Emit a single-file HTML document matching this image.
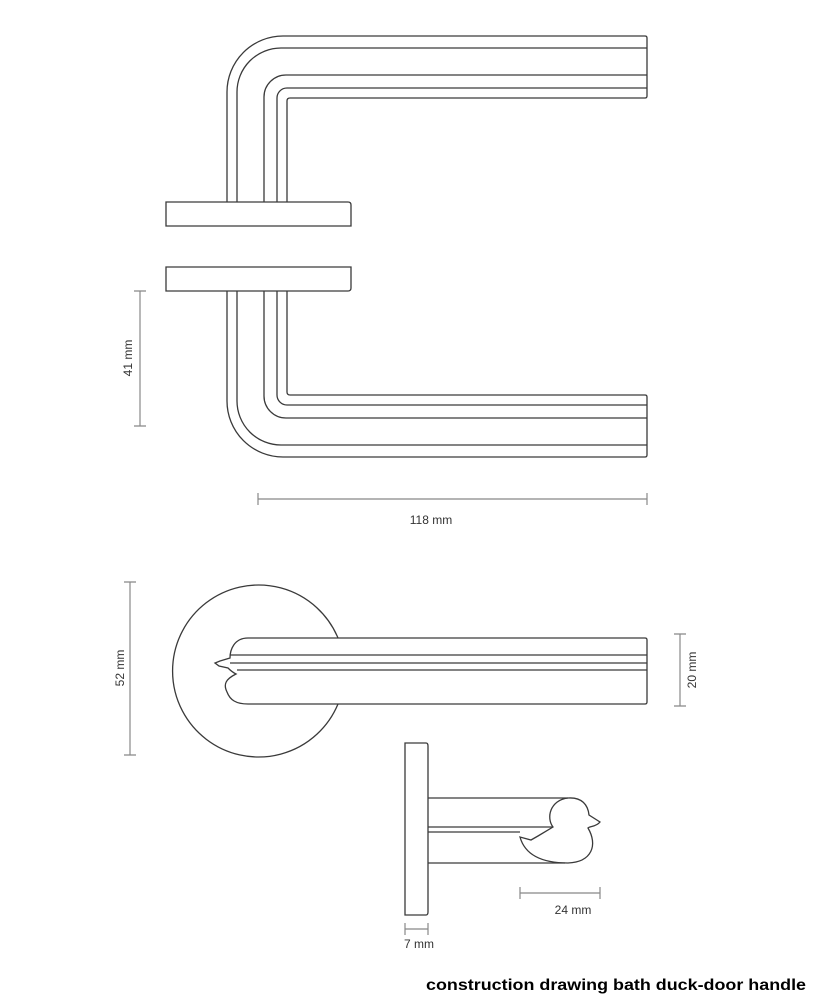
<!DOCTYPE html>
<html><head><meta charset="utf-8"><style>
html,body{margin:0;padding:0;background:#fff;}
svg{display:block;}
text{font-family:"Liberation Sans",sans-serif;fill:#333;}
</style></head><body>
<svg width="818" height="1000" viewBox="0 0 818 1000" xmlns="http://www.w3.org/2000/svg">
<g fill="none" stroke="#3a3a3a" stroke-width="1.3">
<!-- top handle upper -->
<path d="M227,202 V92 A56,56 0 0 1 283,36 H645 Q647,36 647,38 V96 Q647,98 645,98 H290 Q287,98 287,101 V202"/>
<path d="M237,202 V92 A44,44 0 0 1 281,48 H647"/>
<path d="M264,202 V97 A22,22 0 0 1 286,75 H647"/>
<path d="M277,202 V98 A10,10 0 0 1 287,88 H647"/>
<!-- rosettes -->
<path d="M166,202 H348 Q351,202 351,205 V226 H166 Z"/>
<path d="M166,267 H351 V288 Q351,291 348,291 H166 Z"/>
<!-- bottom handle -->
<path d="M227,291 V401 A56,56 0 0 0 283,457 H645 Q647,457 647,455 V397 Q647,395 645,395 H290 Q287,395 287,392 V291"/>
<path d="M237,291 V401 A44,44 0 0 0 281,445 H647"/>
<path d="M264,291 V396 A22,22 0 0 0 286,418 H647"/>
<path d="M277,291 V395 A10,10 0 0 0 287,405 H647"/>
<!-- front view -->
<path d="M338,638 A86,86 0 1 0 338,704"/>
<path d="M248,638 H645 Q647,638 647,640 V702 Q647,704 645,704 H248 C236,704 230,700 227,692 C223,684 226,679 236,674 C232,672 230,670 228,668 L219,666 L215,663 L220,661 L230,658 C230,650 234,638 248,638 Z"/>
<path d="M230,655 H647 M230,663 H647 M237,670 H647"/>
<!-- side view -->
<path d="M405,743 H426 Q428,743 428,746 V912 Q428,915 426,915 H405 Z"/>
<path d="M428,798 H568 M428,827 H553 M428,832 H520 M428,863 H565"/>
<path d="M553,827 C546,818 550,800 568,798 C582,797 588,805 589,815 L600,822 C596,827 590,826 588,828 C598,845 592,862 568,863 C542,863 525,855 520,837 L531,840 L538,836 Z"/>
</g>
<!-- dimensions -->
<g fill="none" stroke="#888" stroke-width="1.2">
<path d="M140,291 V426 M134,291 H146 M134,426 H146"/>
<path d="M258,499 H647 M258,493 V505 M647,493 V505"/>
<path d="M130,582 V755 M124,582 H136 M124,755 H136"/>
<path d="M680,634 V706 M674,634 H686 M674,706 H686"/>
<path d="M520,893 H600 M520,887 V899 M600,887 V899"/>
<path d="M405,929 H428 M405,923 V935 M428,923 V935"/>
</g>
<g font-size="12">
<text transform="translate(132,358) rotate(-90)" text-anchor="middle">41 mm</text>
<text x="431" y="524" text-anchor="middle">118 mm</text>
<text transform="translate(124,668) rotate(-90)" text-anchor="middle">52 mm</text>
<text transform="translate(696,670) rotate(-90)" text-anchor="middle">20 mm</text>
<text x="573" y="914" text-anchor="middle">24 mm</text>
<text x="419" y="948" text-anchor="middle">7 mm</text>
</g>
<text x="806" y="990" text-anchor="end" font-size="16" font-weight="bold" fill="#000" style="fill:#000" textLength="380" lengthAdjust="spacingAndGlyphs">construction drawing bath duck-door handle</text>
</svg>
</body></html>
